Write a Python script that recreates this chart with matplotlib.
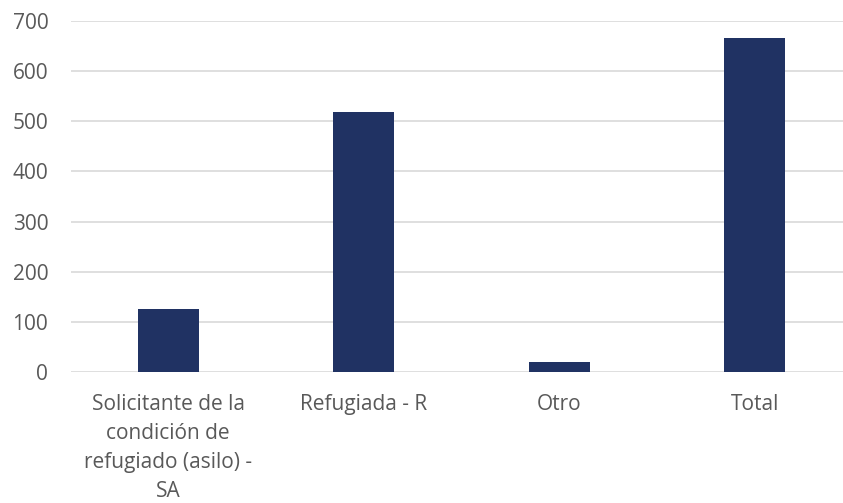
import matplotlib.pyplot as plt

categories = ['Solicitante de la\ncondición de\nrefugiado (asilo) -\nSA', 'Refugiada - R', 'Otro', 'Total']
values = [126, 519, 20, 666]
yticks = [0, 100, 200, 300, 400, 500, 600, 700]

plt.rcParams['font.family'] = ['Open Sans', 'DejaVu Sans']

fig = plt.figure(figsize=(8.43, 5.03), dpi=100)
ax = fig.add_axes([70.5 / 843, 1 - 372 / 503, 1 - 70.5 / 843, 351 / 503])

x = range(len(categories))
ax.bar(x, values, width=0.31, color='#203263', zorder=3)

ax.set_xlim(-0.5, -0.5 + (843 - 70.5) / 195.5)
ax.set_ylim(0, 700)
ax.set_yticks(yticks)
ax.set_xticks(list(x))
ax.set_xticklabels(categories, linespacing=1.5, va='top')
ax.grid(axis='y', color='#d9d9d9', linewidth=1.2, zorder=0)
ax.set_axisbelow(True)
for s in ax.spines.values():
    s.set_visible(False)
ax.tick_params(axis='both', length=0, labelsize=15, colors='#595959')
ax.tick_params(axis='x', pad=16)
ax.tick_params(axis='y', pad=16)

fig.savefig('out.png', dpi=100)
